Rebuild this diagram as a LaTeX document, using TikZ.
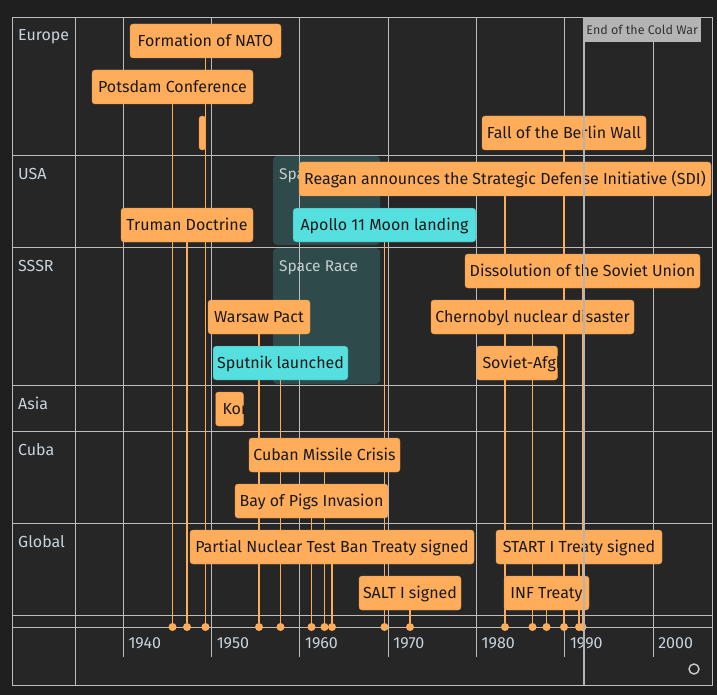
\documentclass[tikz,border=0pt]{standalone}
\usepackage{fontspec}
\setmainfont{Fira Sans}
\usetikzlibrary{backgrounds}
\definecolor{pagebg}{HTML}{1F1F1F}
\definecolor{panelbg}{HTML}{262626}
\definecolor{gridgrey}{HTML}{BDBDBD}
\definecolor{evorange}{HTML}{FFAD5A}
\definecolor{evcyan}{HTML}{55DFDF}
\definecolor{spaceteal}{HTML}{2F4A4A}
\definecolor{labeltxt}{HTML}{C9D3DD}
\definecolor{eratxt}{HTML}{C4D0D0}
\definecolor{nowgrey}{HTML}{B4B4B4}
\begin{document}
\begin{tikzpicture}[x=1pt, y=-1pt,
  event/.style={rectangle, draw=evorange!85!black, fill=evorange, rounded corners=3pt,
                minimum height=34pt, inner xsep=0pt, inner ysep=0pt,
                text height=13pt, text depth=2pt, text=black!90,
                font=\fontsize{16}{19}\selectfont},
  space/.style={event, fill=evcyan, draw=evcyan!55!black},
  span/.style={event, inner xsep=6pt},
  stem/.style={evorange, line width=1.1pt},
  dot/.style={circle, fill=evorange, inner sep=0pt, minimum size=8pt},
  group/.style={anchor=base west, inner sep=0pt, text=labeltxt, font=\fontsize{16}{19}\selectfont},
  year/.style={anchor=base west, inner sep=0pt, text=labeltxt, font=\fontsize{16}{19}\selectfont},
  era/.style={anchor=base west, inner sep=0pt, text=eratxt, font=\fontsize{15.5}{18}\selectfont},
  gridline/.style={gridgrey, line width=0.9pt}
]
  \useasboundingbox (0,0) rectangle (717,695);

  % group labels
  \node[group] (g-eu) at (18,41) {Europe};
  \node[group] (g-us) at (18,179) {USA};
  \node[group] (g-su) at (18,271) {SSSR};
  \node[group] (g-as) at (18,409) {Asia};
  \node[group] (g-cu) at (18,455) {Cuba};
  \node[group] (g-gl) at (18,547) {Global};

  % space race background labels
  \node[era] (sr-us) at (279,179) {Space Race};
  \node[era] (sr-su) at (279,271) {Space Race};

  % Europe
  \node[event, minimum width=151pt] (nato) at (205.5,41) {Formation of NATO};
  \node[event, minimum width=161pt] (potsdam) at (172.5,87) {Potsdam Conference};
  \node[event, minimum width=164pt] (wall) at (564,133) {Fall of the Berlin Wall};
  \node[span, minimum width=6.7pt, inner xsep=0pt] (blockade) at (202.35,133) {};

  % USA
  \node[event, minimum width=412pt] (sdi) at (505,179) {Reagan announces the Strategic Defense Initiative (SDI)};
  \node[space, minimum width=183pt] (apollo) at (384.5,225) {Apollo 11 Moon landing};
  \node[event, minimum width=132pt] (truman) at (187,225) {Truman Doctrine};

  % SSSR
  \node[event, minimum width=235pt] (dissol) at (582.5,271) {Dissolution of the Soviet Union};
  \node[event, minimum width=203pt] (chernobyl) at (532.5,317) {Chernobyl nuclear disaster};
  \node[event, minimum width=102pt] (warsaw) at (259,317) {Warsaw Pact};
  \node[space, minimum width=135pt] (sputnik) at (280.5,363) {Sputnik launched};
  \begin{scope}
    \clip[rounded corners=3pt] (476.5,345.5) rectangle (557.5,380.5);
    \node[span, minimum width=81pt] (afghan) at (517,363) {\makebox[69pt][l]{Soviet-Afghan War}};
  \end{scope}

  % Asia
  \begin{scope}
    \clip[rounded corners=3pt] (215.5,391.5) rectangle (243.5,426.5);
    \node[span, minimum width=28pt] (korea) at (229.5,409) {\makebox[16pt][l]{\hspace{1pt}Korean War}};
  \end{scope}

  % Cuba
  \node[event, minimum width=151pt] (missile) at (324.5,455) {Cuban Missile Crisis};
  \node[event, minimum width=153pt] (pigs) at (311.5,501) {Bay of Pigs Invasion};

  % Global
  \node[event, minimum width=284pt] (ptbt) at (332,547) {Partial Nuclear Test Ban Treaty signed};
  \node[event, minimum width=102pt] (salt) at (410,593) {SALT I signed};
  \node[event, minimum width=166pt] (start) at (579,547) {START I Treaty signed};
  \node[event, minimum width=85pt] (inf) at (546.5,593) {INF Treaty};

  % axis dots
  \node[dot] (nato-d) at (205.5,627) {};
  \node[dot] (potsdam-d) at (172.5,627) {};
  \node[dot] (wall-d) at (564,627) {};
  \node[dot] (sdi-d) at (505,627) {};
  \node[dot] (apollo-d) at (384.5,627) {};
  \node[dot] (truman-d) at (187,627) {};
  \node[dot] (dissol-d) at (582.5,627) {};
  \node[dot] (chernobyl-d) at (532.5,627) {};
  \node[dot] (warsaw-d) at (259,627) {};
  \node[dot] (sputnik-d) at (280.5,627) {};
  \node[dot] (missile-d) at (324.5,627) {};
  \node[dot] (pigs-d) at (311.5,627) {};
  \node[dot] (ptbt-d) at (332,627) {};
  \node[dot] (salt-d) at (410,627) {};
  \node[dot] (start-d) at (579,627) {};
  \node[dot] (inf-d) at (546.5,627) {};

  % years
  \foreach \yr/\xx in {1940/123.3, 1950/211.6, 1960/299.9, 1970/388.2, 1980/476.5, 1990/564.8, 2000/653.1}
    \node[year] (y\yr) at (\xx+5,648) {\yr};

  % fit icon
  \node[circle, draw=gridgrey!75, line width=1.4pt, minimum size=10pt, inner sep=0pt] (fit) at (694,669) {};

  % end of the cold war
  \coordinate (cw-top) at (584,17);
  \coordinate (cw-bot) at (584,685);
  \draw[nowgrey, line width=1.5pt] (cw-top) -- (cw-bot);
  \node[anchor=north west, fill=nowgrey, minimum width=118pt, minimum height=25pt, inner sep=0pt,
        text=black!80, font=\fontsize{12.5}{15}\selectfont] (coldwar) at (583,17) {End of the Cold War};

  \begin{scope}[on background layer]
    \fill[pagebg] (0,0) rectangle (717,695);
    \fill[panelbg] (12,17) rectangle (712,685);
    \fill[spaceteal, rounded corners=4pt] (273,156) rectangle (380,245);
    \fill[spaceteal, rounded corners=4pt] (273,248) rectangle (380,384);
    \foreach \xx in {123.3, 211.6, 299.9, 388.2, 476.5, 564.8, 653.1}
      \draw[gridline] (\xx,17) -- (\xx,657);
    \draw[gridline] (75,17) -- (75,685);
    \foreach \yy in {155, 247, 385, 431, 523, 615, 627}
      \draw[gridline] (12,\yy) -- (712,\yy);
    \draw[gridline] (12,17) rectangle (712,685);

    \draw[stem] (nato) -- (nato-d);
    \draw[stem] (potsdam) -- (potsdam-d);
    \draw[stem] (wall) -- (wall-d);
    \draw[stem] (sdi) -- (sdi-d);
    \draw[stem] (apollo) -- (apollo-d);
    \draw[stem] (truman) -- (truman-d);
    \draw[stem] (dissol) -- (dissol-d);
    \draw[stem] (chernobyl) -- (chernobyl-d);
    \draw[stem] (warsaw) -- (warsaw-d);
    \draw[stem] (sputnik) -- (sputnik-d);
    \draw[stem] (missile) -- (missile-d);
    \draw[stem] (pigs) -- (pigs-d);
    \draw[stem] (ptbt) -- (ptbt-d);
    \draw[stem] (salt) -- (salt-d);
    \draw[stem] (start) -- (start-d);
    \draw[stem] (inf) -- (inf-d);
  \end{scope}
\end{tikzpicture}
\end{document}
